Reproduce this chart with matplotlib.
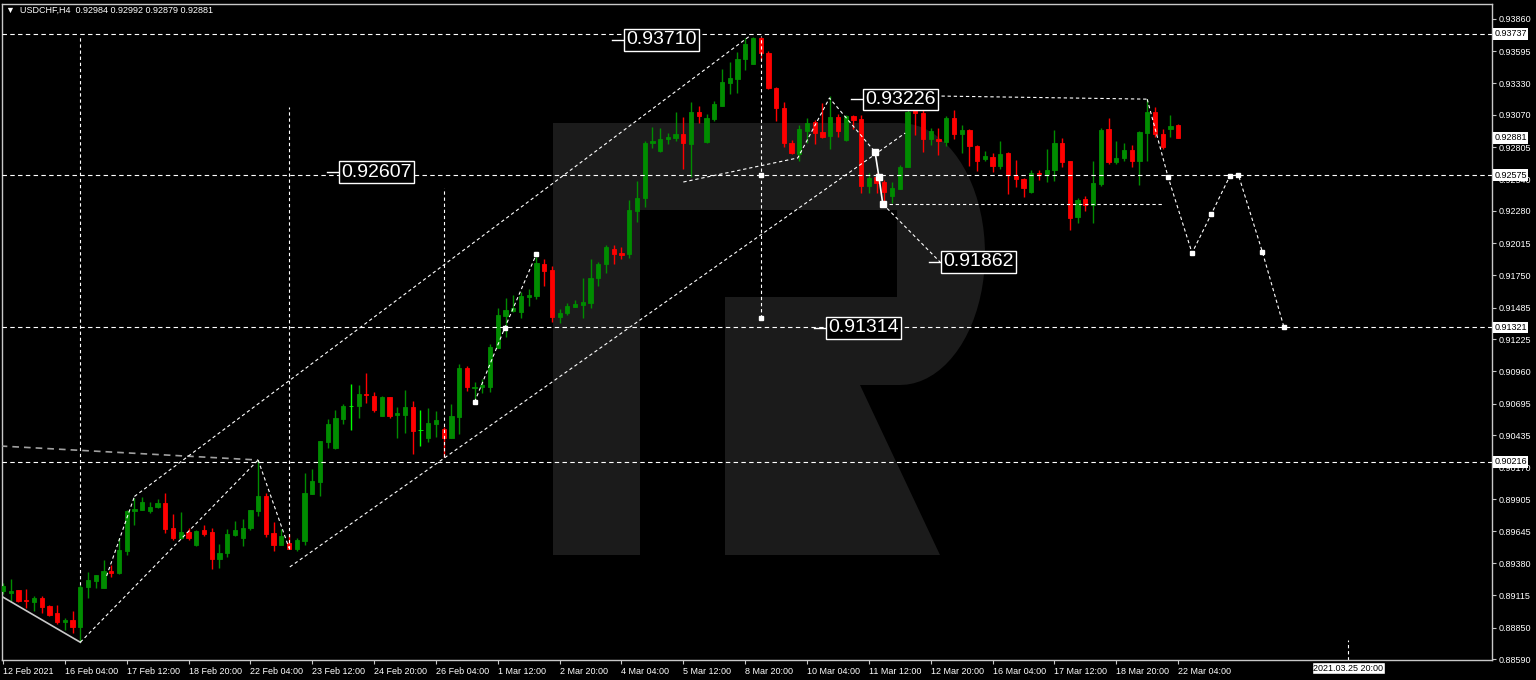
import matplotlib
matplotlib.use("Agg")
import matplotlib.pyplot as plt
from matplotlib.patches import Polygon
from matplotlib.transforms import blended_transform_factory
import numpy as np

# USDCHF H4 candles, 12 Feb 20:00 .. 22 Mar 04:00
opens = [0.89152, 0.89136, 0.89160, 0.89078, 0.89062, 0.89094, 0.89029, 0.88971, 0.88897, 0.88913,
         0.88856, 0.89185, 0.89234, 0.89177, 0.89317, 0.89300, 0.89481, 0.89810, 0.89819, 0.89810,
         0.89843, 0.89876, 0.89671, 0.89588, 0.89638, 0.89531, 0.89654, 0.89638, 0.89415, 0.89465,
         0.89613, 0.89588, 0.89671, 0.89810, 0.89934, 0.89629, 0.89531, 0.89547, 0.89498, 0.89564,
         0.89950, 0.90049, 0.90378, 0.90329, 0.90568, 0.90675, 0.90675, 0.90773, 0.90757, 0.90592,
         0.90749, 0.90601, 0.90601, 0.90666, 0.90477, 0.90411, 0.90526, 0.90485, 0.90411, 0.90584,
         0.90987, 0.90823, 0.90831, 0.90831, 0.91152, 0.91415, 0.91456, 0.91448, 0.91572, 0.91580,
         0.91843, 0.91794, 0.91407, 0.91440, 0.91489, 0.91506, 0.91522, 0.91728, 0.91843, 0.91967,
         0.91934, 0.91926, 0.92279, 0.92386, 0.92839, 0.92773, 0.92872, 0.92880, 0.92913, 0.92831,
         0.93094, 0.92847, 0.93037, 0.93144, 0.93333, 0.93366, 0.93530, 0.93489, 0.93700, 0.93580,
         0.93292, 0.93127, 0.92839, 0.92749, 0.92938, 0.93012, 0.92930, 0.92897, 0.93053, 0.92864,
         0.93061, 0.93037, 0.92485, 0.92559, 0.92518, 0.92403, 0.92461, 0.92642, 0.93111, 0.93086,
         0.92872, 0.92872, 0.92847, 0.93045, 0.92913, 0.92946, 0.92814, 0.92707, 0.92724, 0.92650,
         0.92757, 0.92568, 0.92543, 0.92436, 0.92592, 0.92584, 0.92617, 0.92839, 0.92691, 0.92230,
         0.92378, 0.92329, 0.92502, 0.92954, 0.92683, 0.92716, 0.92781, 0.92691, 0.92921, 0.93094,
         0.92913, 0.92954, 0.92984]
highs = [0.89218, 0.89251, 0.89160, 0.89169, 0.89111, 0.89111, 0.89037, 0.89037, 0.88930, 0.88987,
         0.89201, 0.89308, 0.89284, 0.89407, 0.89366, 0.89588, 0.89819, 0.89917, 0.89926, 0.89885,
         0.89909, 0.89959, 0.89786, 0.89802, 0.89671, 0.89654, 0.89695, 0.89671, 0.89539, 0.89662,
         0.89728, 0.89745, 0.89819, 0.90230, 0.89959, 0.89720, 0.89662, 0.89621, 0.89588, 0.90123,
         0.90156, 0.90387, 0.90568, 0.90642, 0.90691, 0.90856, 0.90847, 0.90946, 0.90790, 0.90757,
         0.90749, 0.90666, 0.90806, 0.90716, 0.90642, 0.90658, 0.90633, 0.90502, 0.90691, 0.91020,
         0.91004, 0.90872, 0.90897, 0.91185, 0.91481, 0.91563, 0.91588, 0.91613, 0.91638, 0.91901,
         0.91884, 0.91827, 0.91473, 0.91522, 0.91547, 0.91728, 0.91884, 0.91860, 0.92000, 0.92000,
         0.91983, 0.92370, 0.92526, 0.92856, 0.92971, 0.92963, 0.92921, 0.93094, 0.93053, 0.93177,
         0.93144, 0.93078, 0.93185, 0.93448, 0.93506, 0.93588, 0.93703, 0.93708, 0.93712, 0.93596,
         0.93300, 0.93177, 0.92864, 0.92987, 0.93045, 0.93028, 0.93168, 0.93222, 0.93078, 0.93070,
         0.93070, 0.93070, 0.92592, 0.92592, 0.92535, 0.92518, 0.92658, 0.93152, 0.93177, 0.93209,
         0.92963, 0.92963, 0.93061, 0.93111, 0.92987, 0.92954, 0.92823, 0.92773, 0.92757, 0.92856,
         0.92765, 0.92699, 0.92551, 0.92617, 0.92617, 0.92790, 0.92946, 0.92880, 0.92691, 0.92386,
         0.92403, 0.92691, 0.92963, 0.93045, 0.92856, 0.92839, 0.92823, 0.92938, 0.93200, 0.93135,
         0.92954, 0.93070, 0.92992]
lows = [0.89127, 0.89062, 0.89062, 0.89012, 0.88987, 0.88971, 0.88946, 0.88880, 0.88831, 0.88806,
        0.88730, 0.89094, 0.89177, 0.89177, 0.89267, 0.89292, 0.89448, 0.89695, 0.89819, 0.89794,
        0.89835, 0.89629, 0.89572, 0.89580, 0.89572, 0.89522, 0.89605, 0.89333, 0.89341, 0.89432,
        0.89605, 0.89522, 0.89654, 0.89769, 0.89596, 0.89481, 0.89531, 0.89498, 0.89481, 0.89531,
        0.89950, 0.89934, 0.90329, 0.90321, 0.90526, 0.90477, 0.90576, 0.90699, 0.90625, 0.90592,
        0.90576, 0.90411, 0.90452, 0.90280, 0.90345, 0.90378, 0.90419, 0.90255, 0.90411, 0.90444,
        0.90798, 0.90699, 0.90782, 0.90790, 0.91152, 0.91242, 0.91448, 0.91399, 0.91498, 0.91555,
        0.91662, 0.91366, 0.91358, 0.91424, 0.91489, 0.91399, 0.91481, 0.91662, 0.91769, 0.91843,
        0.91884, 0.91893, 0.92189, 0.92312, 0.92798, 0.92765, 0.92831, 0.92856, 0.92625, 0.92559,
        0.93004, 0.92839, 0.93020, 0.93144, 0.93242, 0.93251, 0.93440, 0.93489, 0.93522, 0.93284,
        0.93020, 0.92806, 0.92749, 0.92691, 0.92839, 0.92831, 0.92880, 0.92790, 0.92888, 0.92856,
        0.92954, 0.92428, 0.92428, 0.92428, 0.92345, 0.92345, 0.92461, 0.92642, 0.92905, 0.92765,
        0.92823, 0.92740, 0.92814, 0.92872, 0.92757, 0.92650, 0.92609, 0.92691, 0.92600, 0.92625,
        0.92419, 0.92477, 0.92395, 0.92428, 0.92535, 0.92518, 0.92526, 0.92642, 0.92123, 0.92181,
        0.92279, 0.92181, 0.92485, 0.92666, 0.92666, 0.92691, 0.92642, 0.92493, 0.92691, 0.92888,
        0.92790, 0.92888, 0.92879]
closes = [0.89193, 0.89152, 0.89070, 0.89070, 0.89094, 0.89020, 0.88955, 0.88897, 0.88913, 0.88856,
          0.89185, 0.89243, 0.89284, 0.89317, 0.89300, 0.89489, 0.89810, 0.89827, 0.89885, 0.89843,
          0.89876, 0.89662, 0.89588, 0.89638, 0.89588, 0.89646, 0.89621, 0.89415, 0.89465, 0.89621,
          0.89654, 0.89671, 0.89819, 0.89934, 0.89621, 0.89531, 0.89605, 0.89498, 0.89572, 0.89959,
          0.90057, 0.90387, 0.90526, 0.90576, 0.90675, 0.90675, 0.90773, 0.90765, 0.90642, 0.90749,
          0.90592, 0.90617, 0.90666, 0.90469, 0.90477, 0.90535, 0.90559, 0.90411, 0.90592, 0.90987,
          0.90831, 0.90831, 0.90847, 0.91160, 0.91424, 0.91465, 0.91481, 0.91580, 0.91588, 0.91852,
          0.91786, 0.91407, 0.91440, 0.91498, 0.91514, 0.91531, 0.91728, 0.91843, 0.91983, 0.91926,
          0.91917, 0.92288, 0.92386, 0.92839, 0.92856, 0.92872, 0.92888, 0.92913, 0.92839, 0.93094,
          0.93061, 0.93045, 0.93160, 0.93341, 0.93374, 0.93530, 0.93654, 0.93700, 0.93580, 0.93292,
          0.93127, 0.92839, 0.92757, 0.92954, 0.93004, 0.92921, 0.92888, 0.93053, 0.92938, 0.93061,
          0.93028, 0.92485, 0.92551, 0.92510, 0.92436, 0.92469, 0.92642, 0.93094, 0.93086, 0.92872,
          0.92938, 0.92856, 0.93045, 0.92913, 0.92946, 0.92814, 0.92691, 0.92732, 0.92650, 0.92749,
          0.92576, 0.92543, 0.92469, 0.92592, 0.92584, 0.92617, 0.92839, 0.92683, 0.92222, 0.92370,
          0.92329, 0.92510, 0.92946, 0.92683, 0.92716, 0.92781, 0.92691, 0.92930, 0.93094, 0.92913,
          0.92806, 0.92979, 0.92881]

x_labels = ["12 Feb 2021", "16 Feb 04:00", "17 Feb 12:00", "18 Feb 20:00", "22 Feb 04:00",
            "23 Feb 12:00", "24 Feb 20:00", "26 Feb 04:00", "1 Mar 12:00", "2 Mar 20:00",
            "4 Mar 04:00", "5 Mar 12:00", "8 Mar 20:00", "10 Mar 04:00", "11 Mar 12:00",
            "12 Mar 20:00", "16 Mar 04:00", "17 Mar 12:00", "18 Mar 20:00", "22 Mar 04:00"]
y_ticks = [0.93860, 0.93595, 0.93330, 0.93070, 0.92805, 0.92540, 0.92280, 0.92015, 0.91750,
           0.91485, 0.91225, 0.90960, 0.90695, 0.90435, 0.90170, 0.89905, 0.89645, 0.89380,
           0.89115, 0.88850, 0.88590]

levels = [0.93737, 0.92575, 0.91321, 0.90216]
axis_marks = [0.93737, 0.92881, 0.92575, 0.91321, 0.90216]

# drawn objects: bar index / price
base_bars, base_prices = [-0.1, 10], [0.89105, 0.88730]
rise_bars, rise_prices = [10, 33], [0.88730, 0.90230]
leg_bars, leg_prices = [13.4, 17], [0.89276, 0.89930]
top_bars, top_prices = [17, 96.6], [0.89930, 0.93720]
drift_bars, drift_prices = [-0.3, 33], [0.90345, 0.90230]
pull_bars, pull_prices = [33, 37], [0.90230, 0.89505]
low_bars, low_prices = [37.1, 116.7], [0.89350, 0.92921]
wave_bars, wave_prices = [61, 64.9, 69], [0.90708, 0.91317, 0.91926]
corr_bars, corr_prices = [88, 102.8, 106.9, 112.8], [0.92518, 0.92716, 0.93209, 0.92765]
step_bars, step_prices = [112.8, 113.3, 113.8], [0.92765, 0.92559, 0.92337]
drop_bars, drop_prices = [113.8, 121.2], [0.92337, 0.91860]
res_bars, res_prices = [120.6, 148], [0.93226, 0.93200]
sup_bars, sup_prices = [113.8, 149.9], [0.92337, 0.92337]
fc_bars = [148, 150.7, 153.8, 156.3, 158.7, 159.8, 162.9, 165.7]
fc_prices = [0.93200, 0.92559, 0.91934, 0.92255, 0.92568, 0.92576, 0.91942, 0.91321]
vert_bars = [10, 37, 57, 98]
vert_top = [0.93720, 0.93135, 0.92469, 0.93720]
vert_bottom = [0.89201, 0.89500, 0.90255, 0.91399]
mark_bars = [98, 98]
mark_prices = [0.92576, 0.91399]

label_text = ["0.93710", "0.92607", "0.93226", "0.91862", "0.91314"]
label_bars = [80.6, 43.7, 111.5, 121.6, 106.7]
label_prices = [0.93687, 0.92600, 0.93198, 0.91860, 0.91317]

W, H = 1536, 680
fig = plt.figure(figsize=(W / 100, H / 100), dpi=100, facecolor="black")
ax = fig.add_axes([2 / W, 20 / H, 1490 / W, 656 / H], facecolor="black")

# faint logo in the background, drawn inside the axes below everything else
logo_col = "#1b1b1b"
def px(pts):
    return [(x / W, 1 - y / H) for x, y in pts]
t = np.linspace(-np.pi / 2, np.pi / 2, 40)
arc = [(900 + 85 * np.cos(a), 254 + 131 * np.sin(a)) for a in t]
bowl = [(640, 123)] + arc + [(725, 385), (725, 297), (897, 297), (897, 210), (640, 210)]
for shape in [[(553, 123), (640, 123), (640, 555), (553, 555)], bowl,
              [(725, 385), (860, 385), (940, 555), (725, 555)]]:
    ax.add_patch(Polygon(px(shape), closed=True, transform=fig.transFigure,
                         facecolor=logo_col, edgecolor="none", zorder=0.5))

idx = np.arange(len(opens))
o = np.array(opens); c = np.array(closes); hi = np.array(highs); lo = np.array(lows)
cols = np.where(c > o, "#008c00", np.where(c < o, "#ff0000", "#00ff00"))
ax.vlines(idx, lo, hi, colors=cols, linewidth=1.0, zorder=2)
ax.bar(idx, np.abs(c - o), bottom=np.minimum(o, c), width=0.55, color=cols,
       edgecolor=cols, linewidth=0.6, zorder=3)

dash = (0, (3, 2.5))
for lv in levels:
    ax.axhline(lv, color="white", linewidth=0.8, linestyle=(0, (4, 3)), zorder=4)

ax.plot(base_bars, base_prices, color="#c8c8c8", linewidth=1.2, zorder=4)
ax.plot(drift_bars, drift_prices, color="#a0a0a0", linewidth=1.2, linestyle=(0, (4, 3)), zorder=4)
for bx, py in [(rise_bars, rise_prices), (leg_bars, leg_prices), (top_bars, top_prices),
               (pull_bars, pull_prices), (low_bars, low_prices), (wave_bars, wave_prices),
               (corr_bars, corr_prices), (drop_bars, drop_prices), (res_bars, res_prices),
               (sup_bars, sup_prices), (fc_bars, fc_prices)]:
    ax.plot(bx, py, color="white", linewidth=0.8, linestyle=dash, zorder=4)
ax.vlines(vert_bars, vert_bottom, vert_top, colors="white", linewidth=0.8, linestyles=dash, zorder=4)
ax.plot(step_bars, step_prices, color="white", linewidth=1.2, marker="s", markersize=4, zorder=5)
ax.plot(fc_bars[1:], fc_prices[1:], linestyle="none", marker="s", markersize=3, color="white", zorder=5)
ax.plot(wave_bars, wave_prices, linestyle="none", marker="s", markersize=3, color="white", zorder=5)
ax.plot(mark_bars, mark_prices, linestyle="none", marker="s", markersize=3, color="white", zorder=5)

for txt, b, p in zip(label_text, label_bars, label_prices):
    ax.plot([b - 1.8, b - 0.4], [p, p], color="white", linewidth=1, zorder=6)
    ax.text(b, p, txt, color="white", fontsize=14, family=["Liberation Sans", "DejaVu Sans"],
            ha="left", va="center", zorder=7,
            bbox=dict(boxstyle="square,pad=0.12", facecolor="black", edgecolor="white", linewidth=1))

ax.set_xlim(-0.13, 192.6)
ax.set_ylim(0.88584, 0.93983)
for s in ax.spines.values():
    s.set_color("#c8c8c8")
    s.set_linewidth(1)

ax.yaxis.tick_right()
ax.set_yticks(y_ticks)
ax.set_yticklabels(["%.5f" % v for v in y_ticks])
ax.set_xticks(np.arange(0, len(opens), 8))
ax.set_xticklabels(x_labels)
for lbl in ax.get_xticklabels():
    lbl.set_horizontalalignment("left")
ax.tick_params(axis="both", colors="#c8c8c8", labelcolor="white", labelsize=6.5,
               length=3, width=0.8, direction="out", pad=2)
for lbl in ax.get_xticklabels() + ax.get_yticklabels():
    lbl.set_family(["Liberation Sans", "DejaVu Sans"])

ytr = blended_transform_factory(ax.transAxes, ax.transData)
for v in axis_marks:
    ax.text(1.0016, v, "%.5f" % v, transform=ytr, color="black", fontsize=6.5,
            family=["Liberation Sans", "DejaVu Sans"], ha="left", va="center", zorder=8,
            clip_on=False, bbox=dict(boxstyle="square,pad=0.15", facecolor="white", edgecolor="none"))

xtr = blended_transform_factory(ax.transData, ax.transAxes)
ax.plot([174, 174], [0, 0.03], transform=xtr, color="white", linewidth=0.8, linestyle=dash)
ax.text(174, -0.0125, "2021.03.25 20:00", transform=xtr, color="black", fontsize=6.5,
        family=["Liberation Sans", "DejaVu Sans"], ha="center", va="center", clip_on=False,
        bbox=dict(boxstyle="square,pad=0.15", facecolor="white", edgecolor="black"))

fig.text(6 / W, 1 - 10 / H, "\u25BC  USDCHF,H4  0.92984 0.92992 0.92879 0.92881", color="white",
         fontsize=6.5, family=["Liberation Sans", "DejaVu Sans"], ha="left", va="center")

fig.savefig("out.png", dpi=100, facecolor="black")
